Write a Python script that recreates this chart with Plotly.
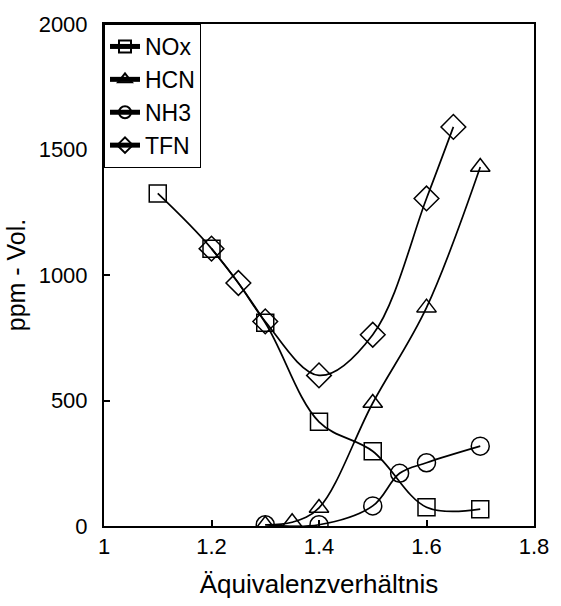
import plotly.graph_objects as go

# Data
nox_x = [1.1, 1.2, 1.3, 1.4, 1.5, 1.6, 1.7]
nox_y = [1325, 1105, 810, 415, 298, 75, 67]

hcn_x = [1.3, 1.35, 1.4, 1.5, 1.6, 1.7]
hcn_y = [5, 15, 72, 490, 870, 1430]

nh3_x = [1.3, 1.4, 1.5, 1.55, 1.6, 1.7]
nh3_y = [5, 5, 80, 210, 252, 318]

tfn_x = [1.2, 1.25, 1.3, 1.4, 1.5, 1.6, 1.65]
tfn_y = [1105, 968, 815, 600, 762, 1305, 1590]

x_ticks = [1, 1.2, 1.4, 1.6, 1.8]
x_tick_labels = ["1", "1.2", "1.4", "1.6", "1.8"]
y_ticks = [0, 500, 1000, 1500, 2000]

FONT = "Liberation Sans, Arial, sans-serif"

fig = go.Figure()

series = [
    ("NOx", nox_x, nox_y, "square-open", 17),
    ("HCN", hcn_x, hcn_y, "triangle-up-open", 17),
    ("NH3", nh3_x, nh3_y, "circle-open", 18),
    ("TFN", tfn_x, tfn_y, "diamond-open", 19),
]
for name, xs, ys, sym, size in series:
    fig.add_trace(go.Scatter(
        x=xs, y=ys, name=name, mode="lines+markers",
        line=dict(color="black", width=1.7, shape="spline", smoothing=1.0),
        marker=dict(symbol=sym, size=size, color="black",
                    line=dict(color="black", width=1.5)),
    ))

fig.update_layout(
    width=561, height=606,
    margin=dict(l=104, r=23, t=19, b=79),
    paper_bgcolor="white", plot_bgcolor="white",
    font=dict(family=FONT, size=22, color="black"),
    showlegend=True,
    legend=dict(
        x=0, y=1, xanchor="left", yanchor="top",
        bordercolor="black", borderwidth=1, bgcolor="white",
        font=dict(family=FONT, size=23, color="black"),
        itemsizing="constant", tracegroupgap=0, itemwidth=30,
    ),
)

fig.update_xaxes(
    range=[1, 1.8], tickvals=x_ticks, ticktext=x_tick_labels,
    showline=True, linecolor="black", linewidth=2, mirror=True,
    ticks="inside", ticklen=6, tickwidth=2, tickcolor="black",
    showgrid=False, zeroline=False,
    tickfont=dict(family=FONT, size=22),
    title=dict(text="Äquivalenzverhältnis", font=dict(family=FONT, size=26), standoff=16),
)
fig.update_yaxes(
    range=[0, 2000], tickvals=y_ticks,
    showline=True, linecolor="black", linewidth=2, mirror=True,
    ticks="inside", ticklen=6, tickwidth=2, tickcolor="black",
    showgrid=False, zeroline=False,
    tickfont=dict(family=FONT, size=22), ticklabelstandoff=10,
    title=dict(text="ppm - Vol.", font=dict(family=FONT, size=25), standoff=6),
)

fig.write_html("out.html")
